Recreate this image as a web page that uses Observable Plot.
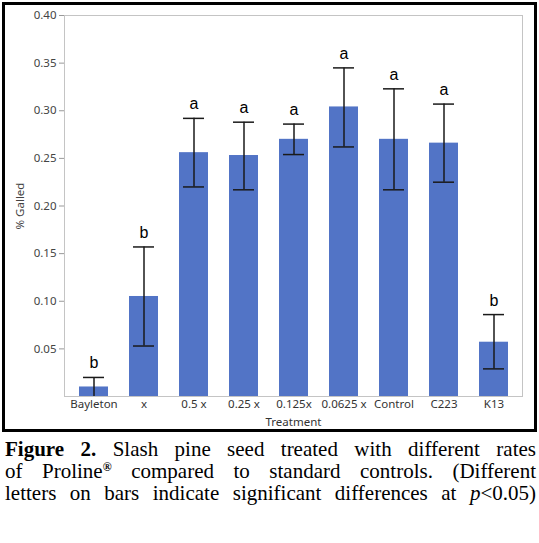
<!DOCTYPE html>
<html>
<head>
<meta charset="utf-8">
<script src="https://cdn.jsdelivr.net/npm/d3@7"></script>
<script src="https://cdn.jsdelivr.net/npm/@observablehq/plot@0.6"></script>
<style>
  body { margin: 0; background: white; }
  #box { position: absolute; left: 2px; top: 2px; width: 529px; height: 424px; border: 3px solid black; }
  #caption {
    position: absolute; left: 5px; top: 438px; width: 531px;
    font-family: "Liberation Serif", "Times New Roman", serif; font-size: 21px; line-height: 22px;
    color: black;
  }
  #caption div { text-align: justify; text-align-last: justify; white-space: nowrap; }
  .reg { display: inline-block; font-size: 12px; line-height: 12px; vertical-align: top; font-weight: bold; margin-top: 1px; }
</style>
</head>
<body>
<div id="box"><div id="chart"></div></div>
<div id="caption">
  <div><b>Figure 2.</b> Slash pine seed treated with different rates</div>
  <div>of Proline<span class="reg">®</span> compared to standard controls. (Different</div>
  <div>letters on bars indicate significant differences at <i>p</i>&lt;0.05)</div>
</div>
<script>
const treatments = ['Bayleton', 'x', '0.5 x', '0.25 x', '0.125x', '0.0625 x', 'Control', 'C223', 'K13']
const means = [0.010, 0.105, 0.256, 0.253, 0.270, 0.304, 0.270, 0.266, 0.057]
const upper = [0.020, 0.157, 0.292, 0.288, 0.286, 0.345, 0.323, 0.307, 0.086]
const lower = [0.000, 0.053, 0.220, 0.217, 0.254, 0.262, 0.217, 0.225, 0.029]
const letters = ['b', 'b', 'a', 'a', 'a', 'a', 'a', 'a', 'b']
const yTicks = [0.05, 0.10, 0.15, 0.20, 0.25, 0.30, 0.35, 0.40]

const data = treatments.map((t, i) => ({
  treatment: t, mean: means[i], hi: upper[i], lo: lower[i], letter: letters[i]
}))

let chart = Plot.plot({
  width: 529,
  height: 424,
  marginLeft: 59,
  marginRight: 12,
  marginTop: 10,
  marginBottom: 33,
  x: { domain: treatments, paddingInner: 0.43, paddingOuter: 0.215 },
  y: { domain: [0, 0.40] },
  style: { fontFamily: '"Noto Sans", sans-serif', fontSize: '11px', color: '#444', background: 'white' },
  marks: [
    Plot.barY(data, { x: 'treatment', y: 'mean', fill: '#5274c6' }),
    Plot.frame({ stroke: '#c4c4c4' }),
    Plot.ruleX(data, { x: 'treatment', y1: 'lo', y2: 'hi', stroke: '#1a1a1a', strokeWidth: 1.5 }),
    Plot.tickY(data, { x: 'treatment', y: 'hi', stroke: '#1a1a1a', strokeWidth: 1.5, insetLeft: 4, insetRight: 4 }),
    Plot.tickY(data.filter(d => d.lo > 0), { x: 'treatment', y: 'lo', stroke: '#1a1a1a', strokeWidth: 1.5, insetLeft: 4, insetRight: 4 }),
    Plot.text(data, { x: 'treatment', y: 'hi', text: 'letter', dy: -9, lineAnchor: 'bottom', fontSize: 16, fontFamily: '"Liberation Sans", Arial, sans-serif', fill: 'black' }),
    Plot.axisY({ ticks: yTicks, tickFormat: d3.format('.2f'), tickSize: 5, tickPadding: 3, stroke: '#999', fill: '#444', fontSize: 11.5, label: '% Galled', labelAnchor: 'center', labelOffset: 49, labelArrow: 'none' }),
    Plot.axisX({ tickSize: 0, tickPadding: 3, fill: '#333', fontSize: 11.5, label: 'Treatment', labelAnchor: 'center', labelOffset: 29, labelArrow: 'none' }),
  ],
})

d3.select('#chart').append(() => chart)
</script>
</body>
</html>
